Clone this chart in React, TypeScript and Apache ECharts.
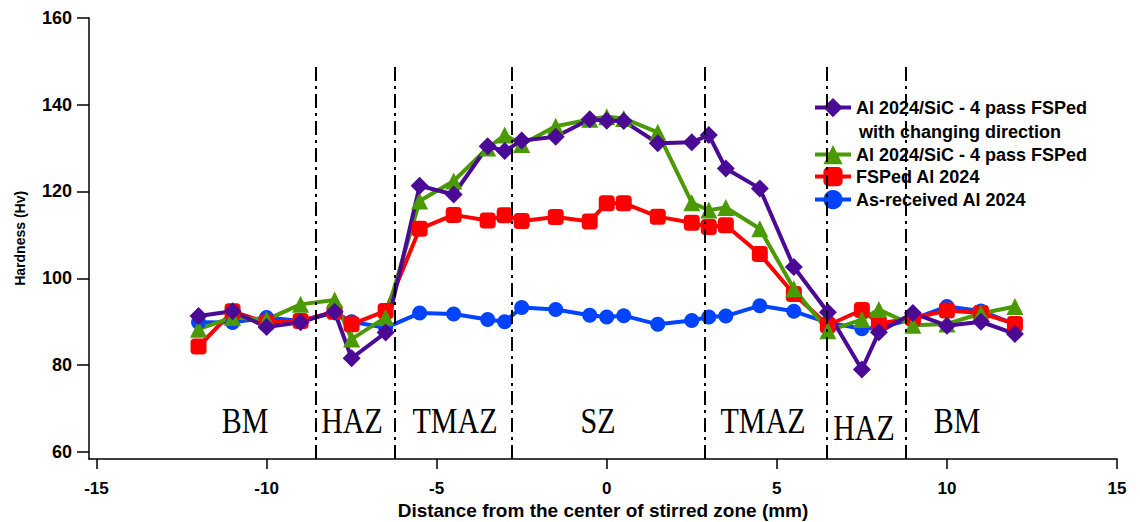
import React, { useEffect, useRef } from "react";
import * as echarts from "echarts";

const xPositions = [-12, -11, -10, -9, -8, -7.5, -6.5, -5.5, -4.5, -3.5, -3, -2.5, -1.5, -0.5, 0, 0.5, 1.5, 2.5, 3, 3.5, 4.5, 5.5, 6.5, 7.5, 8, 9, 10, 11, 12];

const purpleValues = [91.3, 92.4, 88.8, 89.9, 92.3, 81.6, 87.5, 121.3, 119.3, 130.4, 129.3, 131.7, 132.6, 136.6, 136.3, 136.2, 131.1, 131.3, 133.0, 125.3, 120.7, 102.6, 92.2, 79.0, 87.6, 92.0, 89.1, 90.0, 87.2];
const greenValues = [88.3, 91.0, 90.5, 94.0, 95.0, 86.0, 91.0, 117.8, 122.4, 130.0, 133.0, 130.8, 135.0, 136.6, 137.2, 136.8, 133.6, 117.4, 115.7, 116.3, 111.4, 97.6, 87.9, 90.5, 92.8, 89.2, 89.5, 91.9, 93.5];
const redValues = [84.3, 92.4, 89.8, 90.2, 92.3, 89.4, 92.5, 111.4, 114.6, 113.3, 114.5, 113.2, 114.1, 113.1, 117.3, 117.3, 114.2, 112.8, 111.8, 112.2, 105.6, 96.4, 89.2, 92.7, 89.6, 90.8, 92.6, 92.0, 89.5];
const blueValues = [89.9, 89.8, 91.0, 90.2, 92.2, 90.0, 88.6, 92.0, 91.8, 90.5, 90.0, 93.3, 92.8, 91.5, 91.1, 91.4, 89.4, 90.3, 91.1, 91.3, 93.7, 92.4, 89.8, 88.4, 88.6, 90.6, 93.5, 92.5, 89.4];

const seriesNames = [
  "Al 2024/SiC - 4 pass FSPed",
  "Al 2024/SiC - 4 pass FSPed ",
  "FSPed Al 2024",
  "As-received Al 2024",
];
const legendSecondLine = "with changing direction";

const xTicks = [-15, -10, -5, 0, 5, 10, 15];
const yTicks = [60, 80, 100, 120, 140, 160];

const zoneBounds = [-8.55, -6.24, -2.8, 2.87, 6.46, 8.8];
const zoneLineTop = 149.5;
const zoneLabels = ["BM", "HAZ", "TMAZ", "SZ", "TMAZ", "HAZ", "BM"];

const X_MIN = -15.22;
const X_MAX = 15;
const Y_MIN = 58.4;
const Y_MAX = 160;

const SANS = "'Liberation Sans', Arial, sans-serif";
const SERIF = "'Liberation Serif', 'Times New Roman', serif";

function pairs(vals: number[]) {
  return xPositions.map((x, i) => [x, vals[i]]);
}

export default function App() {
  const ref = useRef<HTMLDivElement>(null);

  useEffect(() => {
    document.body.style.margin = "0";
    const chart = echarts.init(ref.current!, null, { renderer: "svg" });

    const zoneLabelPos = [
      [245, 421], [352, 421], [455, 421], [598, 421], [763, 421], [864, 428], [957, 421],
    ];
    const legendTops = [98, 145, 167, 190];

    const lineCommon = (color: string, symbol: string, size: number) => ({
      type: "line" as const,
      symbol,
      symbolSize: size,
      showSymbol: true,
      lineStyle: { color, width: 4 },
      itemStyle: { color, borderWidth: 0 },
    });

    const legendText = { fontFamily: SANS, fontWeight: "bold", fontSize: 18, color: "#000" };

    chart.setOption({
      animation: false,
      backgroundColor: "#ffffff",
      grid: { left: 89, right: 23, top: 17.7, bottom: 63, outerBoundsMode: "none", containLabel: false },
      xAxis: {
        type: "value",
        min: X_MIN,
        max: X_MAX,
        name: "Distance from the center of stirred zone (mm)",
        nameLocation: "middle",
        nameGap: 42,
        nameMoveOverlap: false,
        nameTextStyle: { fontFamily: SANS, fontWeight: "bold", fontSize: 19, color: "#000" },
        axisLine: { onZero: false, lineStyle: { color: "#000", width: 1.5 } },
        axisTick: { customValues: xTicks, length: 10, lineStyle: { color: "#000", width: 1.5 } },
        axisLabel: { customValues: xTicks, margin: 21, fontFamily: SANS, fontWeight: "bold", fontSize: 17, color: "#000" },
        splitLine: { show: false },
      },
      yAxis: {
        type: "value",
        min: Y_MIN,
        max: Y_MAX,
        name: "Hardness (Hv)",
        nameLocation: "middle",
        nameGap: 62,
        nameMoveOverlap: false,
        nameTextStyle: { fontFamily: SANS, fontWeight: "bold", fontSize: 14, color: "#000" },
        axisLine: { show: true, onZero: false, lineStyle: { color: "#000", width: 1.5 } },
        axisTick: { show: true, customValues: yTicks, length: 12, lineStyle: { color: "#000", width: 1.5 } },
        axisLabel: { customValues: yTicks, margin: 17, fontFamily: SANS, fontWeight: "bold", fontSize: 18, color: "#000" },
        splitLine: { show: false },
      },
      legend: seriesNames.map((n, i) => ({
        data: [n],
        orient: "vertical",
        left: 813,
        top: legendTops[i],
        padding: 0,
        itemWidth: 36,
        itemHeight: 24,
        lineStyle: { width: 4 },
        textStyle: legendText,
      })),
      graphic: [
        {
          type: "text",
          left: 859,
          top: 123,
          style: { text: legendSecondLine, font: `bold 18px ${SANS}`, fill: "#000" },
        },
        ...zoneLabels.map((t, i) => ({
          type: "text",
          x: zoneLabelPos[i][0],
          y: zoneLabelPos[i][1],
          scaleY: 1.2,
          style: { text: t, font: `30px ${SERIF}`, fill: "#000", align: "center", verticalAlign: "middle" },
        })),
      ],
      series: [
        {
          ...lineCommon("#0044ff", "circle", 15),
          name: seriesNames[3],
          data: pairs(blueValues),
          markLine: {
            silent: true,
            symbol: ["none", "none"],
            label: { show: false },
            lineStyle: { color: "#000", width: 2, type: [14, 5, 3, 5] },
            data: zoneBounds.map((x) => [
              { coord: [x, Y_MIN] },
              { coord: [x, zoneLineTop] },
            ]),
          },
        },
        { ...lineCommon("#ff0000", "roundRect", 16), name: seriesNames[2], data: pairs(redValues) },
        { ...lineCommon("#4b9a05", "triangle", 17), name: seriesNames[1], data: pairs(greenValues) },
        { ...lineCommon("#4b0a96", "diamond", 18), name: seriesNames[0], data: pairs(purpleValues) },
      ],
    });

    return () => chart.dispose();
  }, []);

  return <div ref={ref} style={{ width: 1140, height: 522 }} />;
}
